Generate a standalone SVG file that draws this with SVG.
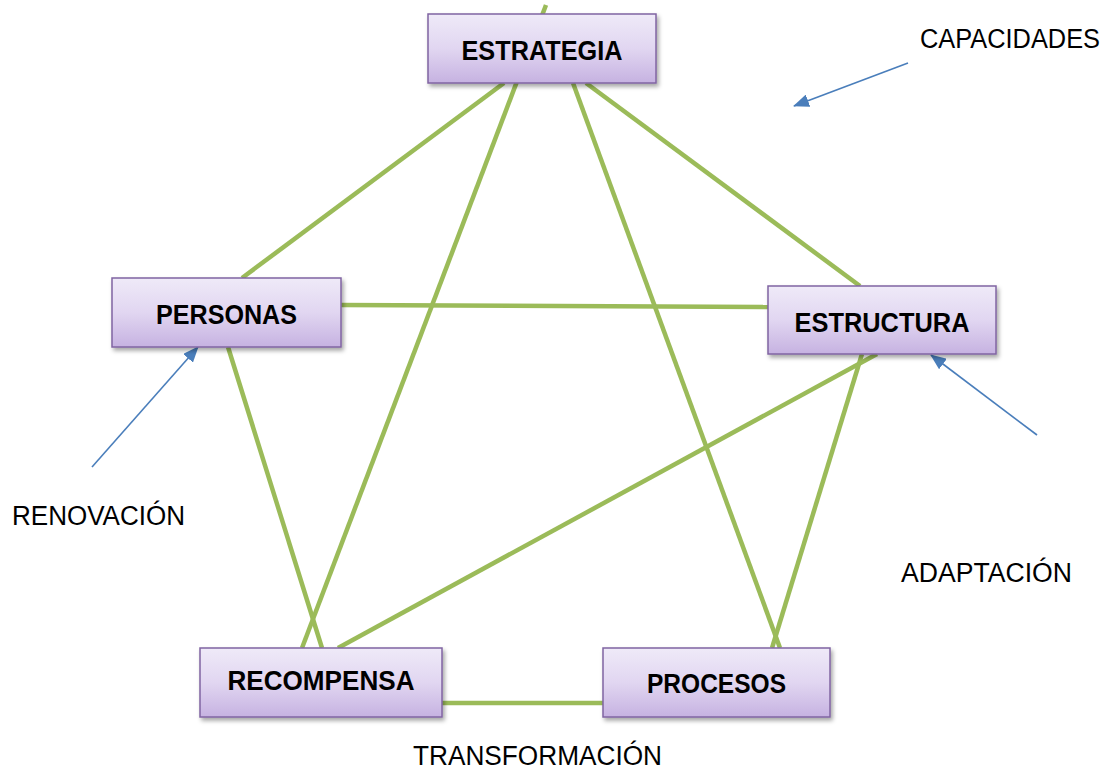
<svg xmlns="http://www.w3.org/2000/svg" width="1111" height="769" viewBox="0 0 1111 769">
<style>
.conn{stroke:#9BBB59;stroke-width:4.5;fill:none;stroke-linecap:butt}
.arr{stroke:#4A7EBB;stroke-width:1.6;fill:none}
.box{fill:url(#g);stroke:#8064A2;stroke-width:1.5;filter:url(#sh)}
.lbl{font-family:"Liberation Sans",Arial,sans-serif;font-weight:bold;font-size:27px;fill:#000;text-anchor:middle}
.txt{font-family:"Liberation Sans",Arial,sans-serif;font-size:27px;fill:#000}
</style>
<defs>
<linearGradient id="g" x1="0" y1="0" x2="0" y2="1">
<stop offset="0" stop-color="#EFEAF8"/>
<stop offset="0.5" stop-color="#E1D6F1"/>
<stop offset="1" stop-color="#C6B2E1"/>
</linearGradient>
<filter id="sh" x="-10%" y="-20%" width="125%" height="150%">
<feDropShadow dx="2" dy="3" stdDeviation="2" flood-color="#000" flood-opacity="0.35"/>
</filter>
<marker id="ah" markerWidth="16" markerHeight="13" refX="15" refY="6.5" orient="auto" markerUnits="userSpaceOnUse">
<path d="M0,0 L16,6.5 L0,13 Z" fill="#4A7EBB"/>
</marker>
</defs>
<rect width="1111" height="769" fill="#fff"/>
<g id="connectors">
<line class="conn" x1="504" y1="83" x2="242" y2="278"/>
<line class="conn" x1="546" y1="5" x2="302" y2="648"/>
<line class="conn" x1="573" y1="83" x2="780" y2="648"/>
<line class="conn" x1="586" y1="83" x2="860" y2="286"/>
<line class="conn" x1="341" y1="305" x2="768" y2="307"/>
<line class="conn" x1="228" y1="347" x2="322" y2="648"/>
<line class="conn" x1="877" y1="354" x2="338" y2="648"/>
<line class="conn" x1="862" y1="354" x2="772" y2="648"/>
<line class="conn" x1="442" y1="703" x2="603" y2="703"/>
<line class="arr" x1="908" y1="63" x2="794" y2="106" marker-end="url(#ah)"/>
<line class="arr" x1="92" y1="467" x2="198" y2="347" marker-end="url(#ah)"/>
<line class="arr" x1="1037" y1="435" x2="931" y2="355" marker-end="url(#ah)"/>
</g>
<g id="estrategia">
<rect class="box" x="428" y="14" width="228" height="69"/>
<text class="lbl" x="542" y="60" textLength="161" lengthAdjust="spacingAndGlyphs">ESTRATEGIA</text>
</g>
<g id="personas">
<rect class="box" x="112" y="278" width="229" height="69"/>
<text class="lbl" x="226.5" y="324" textLength="141" lengthAdjust="spacingAndGlyphs">PERSONAS</text>
</g>
<g id="estructura">
<rect class="box" x="768" y="286" width="228" height="68"/>
<text class="lbl" x="882" y="332" textLength="175" lengthAdjust="spacingAndGlyphs">ESTRUCTURA</text>
</g>
<g id="recompensa">
<rect class="box" x="200" y="648" width="242" height="69"/>
<text class="lbl" x="321" y="690" textLength="187" lengthAdjust="spacingAndGlyphs">RECOMPENSA</text>
</g>
<g id="procesos">
<rect class="box" x="603" y="648" width="227" height="69"/>
<text class="lbl" x="716.5" y="693" textLength="139" lengthAdjust="spacingAndGlyphs">PROCESOS</text>
</g>
<g id="labels">
<text class="txt" x="920" y="48" textLength="180" lengthAdjust="spacingAndGlyphs">CAPACIDADES</text>
<text class="txt" x="12" y="525" textLength="173" lengthAdjust="spacingAndGlyphs">RENOVACIÓN</text>
<text class="txt" x="901" y="582" textLength="171" lengthAdjust="spacingAndGlyphs">ADAPTACIÓN</text>
<text class="txt" x="413" y="765" textLength="249" lengthAdjust="spacingAndGlyphs">TRANSFORMACIÓN</text>
</g>
</svg>
